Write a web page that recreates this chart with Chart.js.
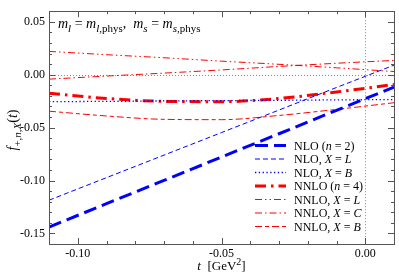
<!DOCTYPE html>
<html><head><meta charset="utf-8">
<script src="https://cdn.jsdelivr.net/npm/chart.js@4.4.0/dist/chart.umd.min.js"></script>
<style>html,body{margin:0;padding:0;background:#fff}canvas{display:block}</style>
</head><body>
<canvas id="c" width="399" height="278"></canvas>
<script>
const tValues = [-0.11, -0.09, -0.07, -0.05, -0.03, -0.01, 0.01];
const nloN2  = [-0.1440, -0.1219, -0.0999, -0.0778, -0.0558, -0.0337, -0.0117];
const nloXL  = [-0.1186, -0.0973, -0.0760, -0.0547, -0.0334, -0.0121, 0.0090];
const nloXB  = [-0.0255, -0.0252, -0.0248, -0.0245, -0.0242, -0.0238, -0.0235];
const nnloN4 = [-0.0175, -0.0225, -0.0252, -0.0255, -0.0225, -0.0163, -0.0093];
const nnloXL = [0.0220, 0.0189, 0.0160, 0.0128, 0.0098, 0.0065, 0.0030];
const nnloXC = [-0.0042, -0.0013, 0.0015, 0.0045, 0.0078, 0.0108, 0.0135];
const nnloXB = [-0.0345, -0.0390, -0.0422, -0.0425, -0.0385, -0.0328, -0.0265];
const seriesLabels = ['NLO (n = 2)', 'NLO, X = L', 'NLO, X = B', 'NNLO (n = 4)', 'NNLO, X = L', 'NNLO, X = C', 'NNLO, X = B'];
const xTickValues = [-0.10, -0.05, 0.00];
const yTickValues = [-0.15, -0.10, -0.05, 0.00, 0.05];

const FONT = "'Liberation Serif', 'DejaVu Serif', serif";
const BLUE = '#0000ff', RED = '#ff0000';

function pts(ys){ return tValues.map((t,i)=>({x:t,y:ys[i]})); }
function ds(label, ys, color, width, dash){
  return {label, data:pts(ys), borderColor:color, borderWidth:width, borderDash:dash,
    pointRadius:0, fill:false, tension:0.3, cubicInterpolationMode:'monotone', borderCapStyle:'butt'};
}
const datasets = [
  ds(seriesLabels[0], nloN2, BLUE, 3, [13,6]),
  ds(seriesLabels[1], nloXL, BLUE, 1, [5,3]),
  ds(seriesLabels[2], nloXB, BLUE, 1.3, [1.3,2.5]),
  ds(seriesLabels[3], nnloN4, RED, 3, [11,5,2.5,5]),
  ds(seriesLabels[4], nnloXL, RED, 1, [7,3,1.5,3,1.5,3]),
  ds(seriesLabels[5], nnloXC, RED, 1, [7,3,1.5,3]),
  ds(seriesLabels[6], nnloXB, RED, 1, [7,3,4,3]),
];

function fontStr(p, base){
  const size = (p.sub||p.sup) ? Math.round(base*0.76) : base;
  return (p.i ? 'italic ' : '') + size + 'px ' + FONT;
}
function measureRich(ctx, parts, base){
  let w=0; parts.forEach(p=>{ctx.font=fontStr(p,base); w+=ctx.measureText(p.t).width;}); return w;
}
function drawRich(ctx, parts, x, y, base){
  ctx.textBaseline='alphabetic'; ctx.textAlign='left';
  parts.forEach(p=>{
    ctx.font=fontStr(p,base);
    const dy = p.sub ? base*0.3 : (p.sup ? -base*0.42 : 0);
    ctx.fillText(p.t, x, y+dy);
    x += ctx.measureText(p.t).width;
  });
  return x;
}
function labelParts(s){
  return s.split(/(\b[nXLCB]\b)/).filter(t=>t.length).map(t=>({t, i:/^[nXLCB]$/.test(t)}));
}

const decor = {
  id:'decor',
  beforeDatasetsDraw(chart){
    const {ctx, chartArea:a, scales:{x,y}} = chart;
    ctx.save();
    ctx.strokeStyle='#8a8a8a'; ctx.lineWidth=1; ctx.setLineDash([1,2]);
    const y0 = Math.round(y.getPixelForValue(0))+0.5;
    const x0 = Math.round(x.getPixelForValue(0))+0.5;
    ctx.beginPath(); ctx.moveTo(a.left,y0); ctx.lineTo(a.right,y0); ctx.stroke();
    ctx.beginPath(); ctx.moveTo(x0,a.top); ctx.lineTo(x0,a.bottom); ctx.stroke();
    ctx.restore();
  },
  afterDatasetsDraw(chart){
    const {ctx, chartArea:a, scales:{x,y}} = chart;
    ctx.save();
    ctx.setLineDash([]);
    ctx.strokeStyle='#555'; ctx.lineWidth=1;
    ctx.strokeRect(Math.round(a.left)+0.5, Math.round(a.top)+0.5, Math.round(a.right-a.left), Math.round(a.bottom-a.top));
    for(let k=-11;k<=1;k++){
      const v=k/100, major = (k%5===0);
      const px=Math.round(x.getPixelForValue(v))+0.5, L = major?6:3;
      ctx.beginPath(); ctx.moveTo(px,a.bottom); ctx.lineTo(px,a.bottom-L);
      ctx.moveTo(px,a.top); ctx.lineTo(px,a.top+L); ctx.stroke();
    }
    for(let k=-16;k<=6;k++){
      const v=k/100, major=(k%5===0);
      const py=Math.round(y.getPixelForValue(v))+0.5, L=major?6:3;
      ctx.beginPath(); ctx.moveTo(a.left,py); ctx.lineTo(a.left+L,py);
      ctx.moveTo(a.right,py); ctx.lineTo(a.right-L,py); ctx.stroke();
    }
    const lx0=255, lx1=286, tx=294;
    chart.data.datasets.forEach((d,i)=>{
      const ly = 145.5 + i*13.5;
      ctx.save();
      ctx.strokeStyle=d.borderColor; ctx.lineWidth=d.borderWidth; ctx.setLineDash(d.borderDash||[]);
      ctx.beginPath(); ctx.moveTo(lx0,ly); ctx.lineTo(lx1,ly); ctx.stroke();
      ctx.restore();
      ctx.fillStyle='#000';
      drawRich(ctx, labelParts(d.label), tx, ly+4, 12);
    });
    ctx.fillStyle='#000';
    const ann=[{t:'m',i:1},{t:'l',i:1,sub:1},{t:' = '},{t:'m',i:1},{t:'l',i:1,sub:1},{t:',phys',sub:1},{t:',  '},
      {t:'m',i:1},{t:'s',i:1,sub:1},{t:' = '},{t:'m',i:1},{t:'s',i:1,sub:1},{t:',phys',sub:1}];
    drawRich(ctx, ann, 58, 28, 14);
    const xt=[{t:'t',i:1},{t:'  [GeV'},{t:'2',sup:1},{t:']'}];
    const xw=measureRich(ctx,xt,13);
    drawRich(ctx, xt, (a.left+a.right)/2 - xw/2, 270, 13);
    const yt=[{t:'f',i:1},{t:'+,',sub:1},{t:'n',i:1,sub:1},{t:',',sub:1},{t:'X',i:1,sub:1},{t:'('},{t:'t',i:1},{t:')'}];
    const yw=measureRich(ctx,yt,14);
    ctx.translate(17, 130); ctx.rotate(-Math.PI/2);
    drawRich(ctx, yt, -yw/2, 0, 14);
    ctx.restore();
  }
};

new Chart(document.getElementById('c'), {
  type:'line',
  data:{datasets},
  options:{
    responsive:false, animation:false, devicePixelRatio:1,
    layout:{padding:{top:1,right:5,left:0,bottom:0}},
    plugins:{legend:{display:false}, tooltip:{enabled:false}},
    scales:{
      x:{type:'linear', min:-0.11, max:0.01,
        afterBuildTicks:s=>{s.ticks=xTickValues.map(v=>({value:v}));},
        afterFit:s=>{s.height=34;},
        grid:{display:false, drawTicks:false}, border:{display:false},
        ticks:{font:{family:FONT,size:12}, color:'#000', padding:3, maxRotation:0, callback:v=>Number(v).toFixed(2)}},
      y:{type:'linear', min:-0.16, max:0.06,
        afterBuildTicks:s=>{s.ticks=yTickValues.map(v=>({value:v}));},
        afterFit:s=>{s.width=49;},
        grid:{display:false, drawTicks:false}, border:{display:false},
        ticks:{font:{family:FONT,size:12}, color:'#000', padding:4, callback:v=>Number(v).toFixed(2)}}
    }
  },
  plugins:[decor]
});
</script>
</body></html>
